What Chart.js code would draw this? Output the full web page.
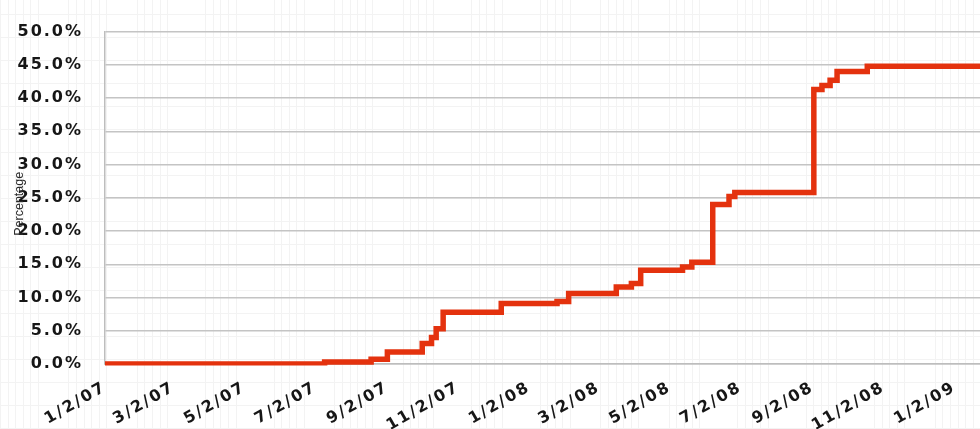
<!DOCTYPE html>
<html>
<head>
<meta charset="utf-8">
<title>Cumulative percentage</title>
<script src="https://cdn.jsdelivr.net/npm/chart.js@4/dist/chart.umd.min.js"></script>
<style>
  html, body { margin: 0; padding: 0; }
  body {
    width: 980px; height: 429px; overflow: hidden;
    /* faint sheet grid behind the chart */
    background:
      repeating-linear-gradient(0deg, #f3f3f3 0 1px, transparent 1px 23px),
      repeating-linear-gradient(90deg, transparent 0 40px, #ffffff 40px 66.7px),
      repeating-linear-gradient(90deg, #f3f3f3 0 1px, transparent 1px 7.6px),
      #ffffff;
  }
  #wrap { position: relative; width: 980px; height: 429px; }
</style>
</head>
<body>
<div id="wrap"><canvas id="chart" width="980" height="429"></canvas></div>
<script>
// Dates at which the cumulative share changes, and the new level (percent)
const stepDates = [
  '1/2/07', '7/10/07', '8/19/07', '9/2/07', '10/2/07', '10/10/07', '10/14/07', '10/20/07',
  '12/9/07', '1/26/08', '2/5/08', '3/17/08', '3/30/08', '4/7/08', '5/13/08', '5/21/08',
  '6/8/08', '6/22/08', '6/27/08', '9/3/08', '9/10/08', '9/17/08', '9/23/08', '10/19/08',
  '1/24/09'
];
const cumulativePct = [
  0.0, 0.3, 0.7, 1.8, 3.1, 4.0, 5.3, 7.8,
  9.1, 9.4, 10.6, 11.6, 12.1, 14.1, 14.6, 15.3,
  24.0, 25.2, 25.8, 41.3, 41.9, 42.7, 44.0, 44.8,
  44.8
];
// Axis labels (every two months)
const tickLabels = [
  '1/2/07', '3/2/07', '5/2/07', '7/2/07', '9/2/07', '11/2/07',
  '1/2/08', '3/2/08', '5/2/08', '7/2/08', '9/2/08', '11/2/08', '1/2/09'
];
const axisStart = '1/2/07';
const axisEnd = '1/24/09';
const yTitle = 'Percentage';

function dayIndex(s) {
  const [m, d, y] = s.split('/').map(Number);
  const [m0, d0, y0] = axisStart.split('/').map(Number);
  return (Date.UTC(2000 + y, m - 1, d) - Date.UTC(2000 + y0, m0 - 1, d0)) / 86400000;
}

const points = stepDates.map((s, i) => ({ x: dayIndex(s), y: cumulativePct[i] }));
const tickPositions = tickLabels.map(dayIndex);
const labelAt = {};
tickLabels.forEach((t, i) => { labelAt[tickPositions[i]] = t; });

const tickFont = { family: 'DejaVu Sans', size: 16, weight: 'bold' };

// Wide tick lettering: spacing is set before layout so label sizes include it
const wideText = {
  id: 'wideText',
  beforeUpdate(chart) { chart.ctx.letterSpacing = '2px'; },
  beforeDraw(chart) { chart.ctx.letterSpacing = '2px'; }
};

// Vertical axis title, drawn over the tick label column
const yTitlePlugin = {
  id: 'yTitle',
  afterDraw(chart) {
    const { ctx, chartArea } = chart;
    ctx.save();
    ctx.letterSpacing = '0px';
    ctx.translate(chart.scales.y.left + 12, (chartArea.top + chartArea.bottom) / 2 + 6);
    ctx.rotate(-Math.PI / 2);
    ctx.font = '12.5px "Liberation Sans", Arial, sans-serif';
    ctx.fillStyle = '#2a2a2a';
    ctx.textAlign = 'center';
    ctx.textBaseline = 'middle';
    ctx.fillText(yTitle, 0, 0);
    ctx.restore();
  }
};

new Chart(document.getElementById('chart'), {
  type: 'line',
  data: {
    datasets: [{
      data: points,
      stepped: 'before',
      borderColor: '#e4320e',
      borderWidth: 5.5,
      pointRadius: 0,
      fill: false,
      borderCapStyle: 'butt',
      borderJoinStyle: 'miter',
      clip: { left: 0, top: 6, right: 0, bottom: 1.5 }
    }]
  },
  options: {
    responsive: false,
    animation: false,
    events: [],
    layout: { padding: { left: 8, right: 0, top: 15, bottom: 0 } },
    plugins: { legend: { display: false }, tooltip: { enabled: false } },
    scales: {
      x: {
        type: 'linear',
        min: 0,
        max: dayIndex(axisEnd),
        afterBuildTicks(scale) {
          scale.ticks = tickPositions.map(v => ({ value: v }));
        },
        afterFit(scale) { scale.height = 65; },
        ticks: {
          autoSkip: false,
          minRotation: 30,
          maxRotation: 30,
          padding: 14,
          color: '#161616',
          font: tickFont,
          callback: v => labelAt[v]
        },
        grid: { display: false, drawTicks: false },
        border: { display: true, color: '#bdbdbd', width: 1.5 }
      },
      y: {
        min: 0,
        max: 50,
        afterFit(scale) { scale.width = 97; },
        ticks: {
          stepSize: 5,
          padding: 22,
          color: '#161616',
          font: tickFont,
          callback: v => v.toFixed(1) + '%'
        },
        grid: { color: '#c4c4c4', lineWidth: 1.5, drawTicks: false },
        border: { display: true, color: '#bdbdbd', width: 1.5 }
      }
    }
  },
  plugins: [wideText, yTitlePlugin]
});
</script>
</body>
</html>
